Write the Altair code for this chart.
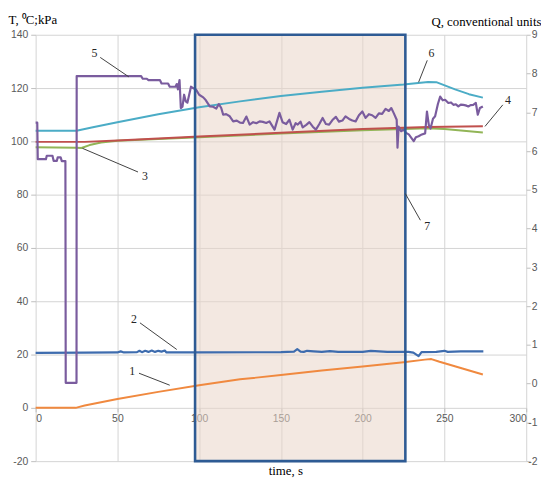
import altair as alt
import pandas as pd

# ---- data (time in s, values on the left scale) ----
s1_t = [0, 24.5, 30, 50, 75, 100, 125, 150, 175, 200, 225, 238, 242, 247, 273.5]
s1_v = [0, 0, 0.9, 3.3, 6.0, 8.5, 10.7, 12.3, 14.0, 15.5, 17.1, 18.1, 18.3, 17.3, 12.5]

s2_t = [0, 30, 50, 52, 54, 62, 63.5, 65, 67, 69, 71, 73, 75, 77, 79, 80, 100, 150, 158, 160, 162, 164,
        166, 170, 175, 180, 185, 200, 205, 210, 215, 228, 231, 234.2, 236, 245, 250, 252, 260, 273.8]
s2_v = [20.6, 20.7, 20.8, 21.2, 20.8, 20.9, 21.4, 20.9, 21.4, 21.0, 21.5, 21.0, 21.4, 21.1, 21.5, 20.8,
        20.8, 20.9, 21.1, 22.0, 21.1, 21.0, 21.4, 21.2, 21.0, 21.3, 21.0, 21.0, 21.4, 21.2, 21.0, 21.0,
        20.7, 19.4, 20.9, 21.0, 21.4, 21.0, 21.2, 21.2]

s3_t = [0, 25, 28, 33, 40, 50, 100, 150, 200, 240, 250, 273.5]
s3_v = [97.8, 97.6, 97.5, 98.6, 99.6, 100.2, 101.5, 102.9, 104.2, 104.9, 104.6, 103.3]

s4_t = [0, 30, 50, 100, 150, 200, 240, 273.5]
s4_v = [99.8, 99.8, 100.3, 101.8, 103.2, 104.6, 105.4, 105.7]

s5_t = [0, 1.0, 1.3, 6.3, 6.8, 10.3, 11.0, 13.0, 13.5, 15.3, 16.0, 18.2, 18.4, 25.0, 25.1, 64.5, 65.5,
        68, 69, 76, 77, 81, 82, 85.5, 86.3, 87, 88, 88.8, 89.8, 90.8, 91.8, 92.8, 93.8, 95, 96.5, 98,
        100, 102.5, 104, 106.5, 108.5, 110.5, 112, 113.5, 114.7, 116.5, 118.7, 120.8, 123, 125, 126.8,
        128.9, 130.9, 133, 135, 137, 139, 141, 143, 146.1, 149.1, 151, 153.2, 155.2, 157.2, 159, 160.3,
        162, 163.3, 165.5, 167.4, 169.5, 171.4, 173.5, 175.5, 177.5, 179.5, 181.5, 183.6, 185.5, 187.6,
        189.5, 191.7, 193.7, 195.7, 197.7, 199.8, 201.8, 203.8, 205.8, 207.9, 209.9, 211.9, 214, 216,
        217.5, 219, 220.8, 221.3, 222, 223.5, 225, 226.5, 228.2, 231.2, 232.5, 234.2, 236.2, 238.2,
        239.3, 240.5, 241.5, 243, 244.3, 246, 247.4, 249, 250.4, 252.4, 254, 255.5, 257, 258.5, 260,
        261.5, 263, 264.6, 266, 267.6, 269.2, 270.4, 271.7, 273.5]
s5_v = [107, 107, 93.3, 93.3, 94.6, 94.6, 92.7, 92.7, 94.0, 94.0, 92.6, 92.6, 9.4, 9.4, 124.5, 124.5,
        123.5, 123.5, 123, 123, 121.7, 121.7, 120.5, 120.5, 121.5, 119.5, 123, 112.5, 113, 117.5, 115,
        114.5, 117.2, 120.5, 119.9, 119.5, 117.5, 116.5, 115.5, 113.1, 113, 112.3, 114, 112.5, 110,
        110.2, 109.4, 107.5, 107.8, 107, 106.9, 109.3, 106.3, 107.2, 106.8, 107.5, 107.3, 106.9, 107.5,
        104.4, 110.7, 107.2, 106.5, 108.1, 104.4, 106.8, 106.3, 107.4, 105.2, 106.2, 107.2, 105.5, 104.4,
        106.5, 108.8, 106.5, 106.3, 108, 109.2, 107.4, 107.8, 109.4, 108.4, 107.8, 107.5, 109.8, 111.2,
        108.8, 110.2, 109.8, 108.8, 110.5, 110.3, 112.2, 111.4, 112.5, 110.6, 108.1, 97.6, 105.5, 103.8,
        104.4, 103.2, 102.6, 100.1, 101.5, 101.9, 102.6, 103, 111.2, 106, 104.8, 108.5, 109.4, 114,
        116.8, 115.4, 115.6, 114.4, 114.6, 113.7, 113.9, 113.1, 113.8, 113.7, 113.5, 113.1, 113.6, 113.7,
        114.4, 110, 112.5, 113.1]

s6_t = [0, 25, 35, 50, 75, 100, 125, 150, 175, 200, 225, 240, 245, 256.5, 265, 273.5]
s6_v = [104, 104, 105.3, 107.2, 110.2, 112.8, 115, 117, 118.6, 120.1, 121.3, 122.3, 122.2, 119.5, 117.7, 116.4]

series_names = ["1", "2", "3", "4", "6", "5"]
series_t = {"1": s1_t, "2": s2_t, "3": s3_t, "4": s4_t, "5": s5_t, "6": s6_t}
series_v = {"1": s1_v, "2": s2_v, "3": s3_v, "4": s4_v, "5": s5_v, "6": s6_v}
series_color = {"1": "#F0893F", "2": "#3E6CAE", "3": "#92B557", "4": "#C0504D",
                "5": "#7A5C9E", "6": "#4BACC6"}
series_width = {"1": 2, "2": 2.2, "3": 2, "4": 2, "5": 2.2, "6": 2}

# highlighted window (curve 7 is its right edge)
win_t = [97.5]
win_t2 = [226.1]
win_v = [140]
win_v2 = [-20]

# numbered labels and their leader lines
lab_text = ["5", "6", "4", "3", "7", "2", "1"]
lab_t = [35.9, 242.0, 288.8, 66.9, 239.5, 60.2, 59.0]
lab_v = [133.0, 133.0, 115.6, 87.0, 68.1, 33.3, 13.7]
lead_t = [39.5, 239.5, 285.7, 28.6, 226.1, 63.8, 63.2]
lead_v = [131.5, 130.4, 113.7, 97.4, 80.4, 31.9, 13.0]
lead_t2 = [57.0, 234.2, 274.8, 62.6, 235.3, 86.3, 82.0]
lead_v2 = [124.2, 122.2, 105.6, 88.5, 70.4, 21.9, 8.5]

x_ticks = [0, 50, 100, 150, 200, 250, 300]
y_ticks = [-20, 0, 20, 40, 60, 80, 100, 120, 140]
q_ticks = [-2, -1, 0, 1, 2, 3, 4, 5, 6, 7, 8, 9]

SERIF = "Liberation Serif"
SANS = "Liberation Sans"
PLAIN = "toString(datum.value)"

x_enc = alt.X("t:Q", scale=alt.Scale(domain=[0, 300], nice=False, zero=False),
              axis=alt.Axis(values=x_ticks, grid=True, offset=-54, domain=False,
                            tickSize=4, labelPadding=2, title="time, s", labelExpr=PLAIN,
                            titleFont=SERIF, titleFontSize=13, titleFontWeight="normal",
                            titleColor="#000000", titleX=253, titleY=64,
                            titleBaseline="middle", titleAlign="center"))
y_enc = alt.Y("v:Q", scale=alt.Scale(domain=[-20, 140], nice=False, zero=False),
              axis=alt.Axis(values=y_ticks, grid=True, domain=False, tickSize=5,
                            labelPadding=3, labelExpr=PLAIN, title="T, ⁰C;kPa", titleAngle=0,
                            titleAlign="left", titleBaseline="middle", titleX=-28,
                            titleY=-15, titleFont=SERIF, titleFontSize=13,
                            titleFontWeight="normal", titleColor="#000000"))

layers = []
win_df = pd.DataFrame({"t": win_t, "t2": win_t2, "v": win_v, "v2": win_v2})
layers.append(alt.Chart(win_df).mark_rect(fill="#E9D6C9", fillOpacity=0.55, strokeWidth=0)
              .encode(x=x_enc, x2="t2:Q", y=y_enc, y2="v2:Q"))

for name in series_names:
    df = pd.DataFrame({"t": series_t[name], "v": series_v[name]})
    layers.append(alt.Chart(df).mark_line(color=series_color[name],
                                          strokeWidth=series_width[name],
                                          strokeJoin="round")
                  .encode(x=x_enc, y=y_enc))

layers.append(alt.Chart(win_df).mark_rect(fillOpacity=0, stroke="#2E5B94", strokeWidth=2.6)
              .encode(x=x_enc, x2="t2:Q", y=y_enc, y2="v2:Q"))

lead_df = pd.DataFrame({"t": lead_t, "v": lead_v, "t2": lead_t2, "v2": lead_v2})
layers.append(alt.Chart(lead_df).mark_rule(color="#404040", strokeWidth=1)
              .encode(x=x_enc, y=y_enc, x2="t2:Q", y2="v2:Q"))

lab_df = pd.DataFrame({"t": lab_t, "v": lab_v, "txt": lab_text})
layers.append(alt.Chart(lab_df).mark_text(font=SERIF, fontSize=12, color="#262626")
              .encode(x=x_enc, y=y_enc, text="txt:N"))

left = alt.layer(*layers)

q_df = pd.DataFrame({"t": [0], "q": [0]})
right = alt.Chart(q_df).mark_point(opacity=0).encode(
    x=x_enc,
    y=alt.Y("q:Q", scale=alt.Scale(domain=[-2, 9], nice=False, zero=False),
            axis=alt.Axis(orient="right", values=q_ticks, grid=False, domain=False,
                          tickSize=4, labelPadding=7, labelAlign="right", labelExpr=PLAIN,
                          title="Q, conventional units", titleAngle=0, titleAlign="right",
                          titleBaseline="middle", titleX=15, titleY=-13, titleFont=SERIF,
                          titleFontSize=13, titleFontWeight="normal", titleColor="#000000")),
)

chart = (
    alt.layer(left, right)
    .resolve_scale(y="independent")
    .properties(width=540, height=473,
                autosize=alt.AutoSizeParams(type="fit", contains="padding"),
                padding={"left": 0, "top": 3, "right": 0, "bottom": 0})
    .configure_view(stroke=None)
    .configure_axis(gridColor="#D3D3D3", gridWidth=1, tickColor="#BFBFBF",
                    labelFont=SANS, labelFontSize=10.5, labelColor="#595959")
)

chart.save("out.html", embed_options={"renderer": "svg", "actions": False})
